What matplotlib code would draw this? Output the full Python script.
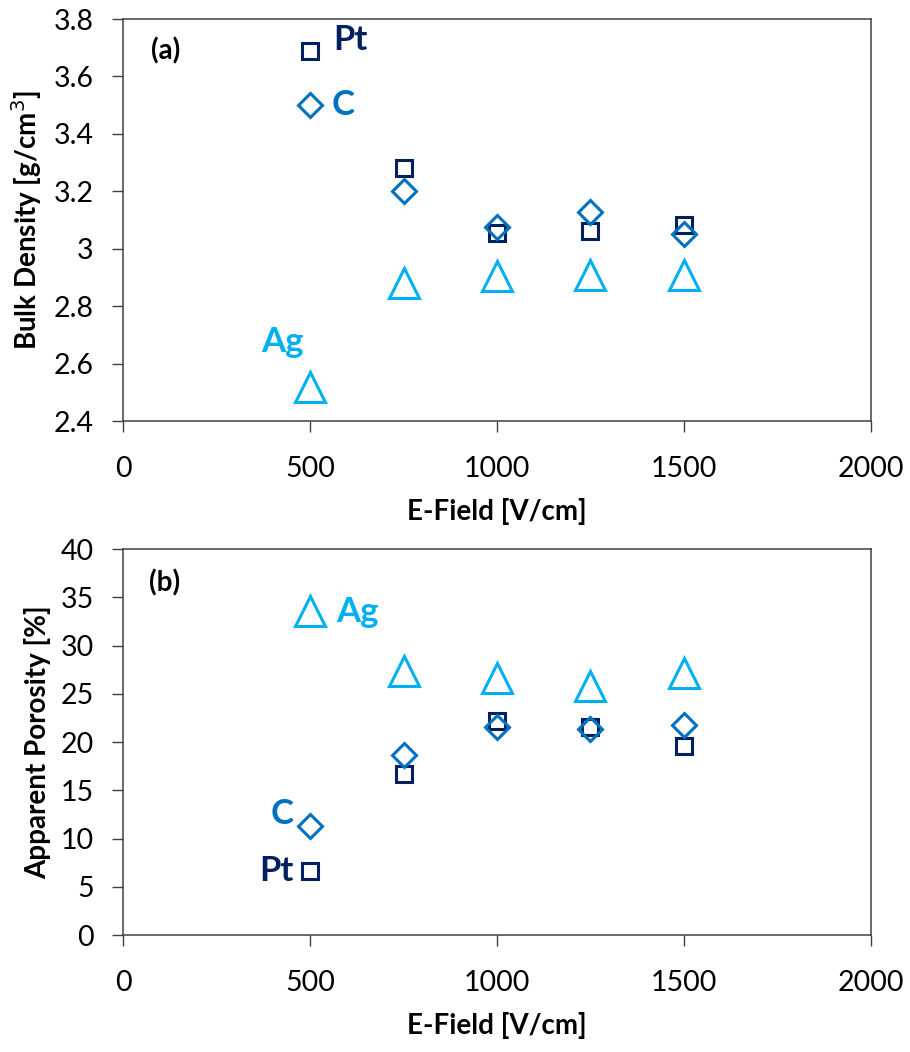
import numpy as np
import matplotlib.pyplot as plt
from matplotlib.ticker import FuncFormatter

plt.rcParams['font.family'] = ['Lato', 'DejaVu Sans']

# E-field values
field = [500, 750, 1000, 1250, 1500]

# bulk density [g/cm3]
dens_pt = [3.69, 3.28, 3.055, 3.062, 3.082]
dens_c = [3.50, 3.20, 3.074, 3.128, 3.051]
dens_ag = [2.517, 2.882, 2.905, 2.909, 2.91]

# apparent porosity [%]
por_pt = [6.6, 16.7, 22.2, 21.6, 19.6]
por_c = [11.3, 18.7, 21.6, 21.3, 21.8]
por_ag = [33.6, 27.4, 26.6, 25.8, 27.2]

c_pt = '#002060'
c_c = '#0070C0'
c_ag = '#00B0F0'
edge = '#404040'

fig = plt.figure(figsize=(9.10, 10.52), dpi=100)
ax1 = fig.add_axes([0.1352, 0.5998, 0.8219, 0.3821])
ax2 = fig.add_axes([0.1352, 0.1112, 0.8219, 0.3669])

def style(ax, ylim, yticks, ylabel):
    ax.set_xlim(0, 2000)
    ax.set_ylim(*ylim)
    ax.set_xticks([0, 500, 1000, 1500, 2000])
    ax.set_yticks(yticks)
    ax.yaxis.set_major_formatter(FuncFormatter(lambda v, p: f'{v:g}'))
    ax.tick_params(direction='out', length=8, width=1.0, color=edge,
                   labelsize=20.5)
    ax.tick_params(axis='y', pad=13)
    ax.tick_params(axis='x', pad=17)
    for s in ax.spines.values():
        s.set_color(edge)
        s.set_linewidth(1.1)
    ax.set_xlabel('E-Field [V/cm]', fontsize=20, fontweight='bold', labelpad=12)
    ax.set_ylabel(ylabel, fontsize=20, fontweight='bold', labelpad=7)

def points(ax, pt, c, ag):
    kw = dict(linestyle='none', markerfacecolor='none', markeredgewidth=2.2)
    ax.plot(field, ag, marker='^', markersize=21, color=c_ag, **kw)
    ax.plot(field, pt, marker='s', markersize=11.5, color=c_pt, **kw)
    ax.plot(field, c, marker='D', markersize=12.5, color=c_c, **kw)

points(ax1, dens_pt, dens_c, dens_ag)
style(ax1, (2.4, 3.8), np.arange(2.4, 3.81, 0.2).round(1), 'Bulk Density [g/cm$^3$]')
tk = dict(fontsize=25, fontweight='bold', ha='center', va='center')
ax1.text(607, 3.727, 'Pt', color=c_pt, **tk)
ax1.text(588, 3.50, 'C', color=c_c, **tk)
ax1.text(425, 2.675, 'Ag', color=c_ag, **tk)
ax1.text(115, 3.69, '(a)', fontsize=20, fontweight='bold', ha='center', va='center')

points(ax2, por_pt, por_c, por_ag)
style(ax2, (0, 40), np.arange(0, 41, 5), 'Apparent Porosity [%]')
ax2.text(626, 33.5, 'Ag', color=c_ag, **tk)
ax2.text(425, 12.5, 'C', color=c_c, **tk)
ax2.text(409, 6.6, 'Pt', color=c_pt, **tk)
ax2.text(110, 36.5, '(b)', fontsize=20, fontweight='bold', ha='center', va='center')

fig.savefig('out.png', dpi=100)
